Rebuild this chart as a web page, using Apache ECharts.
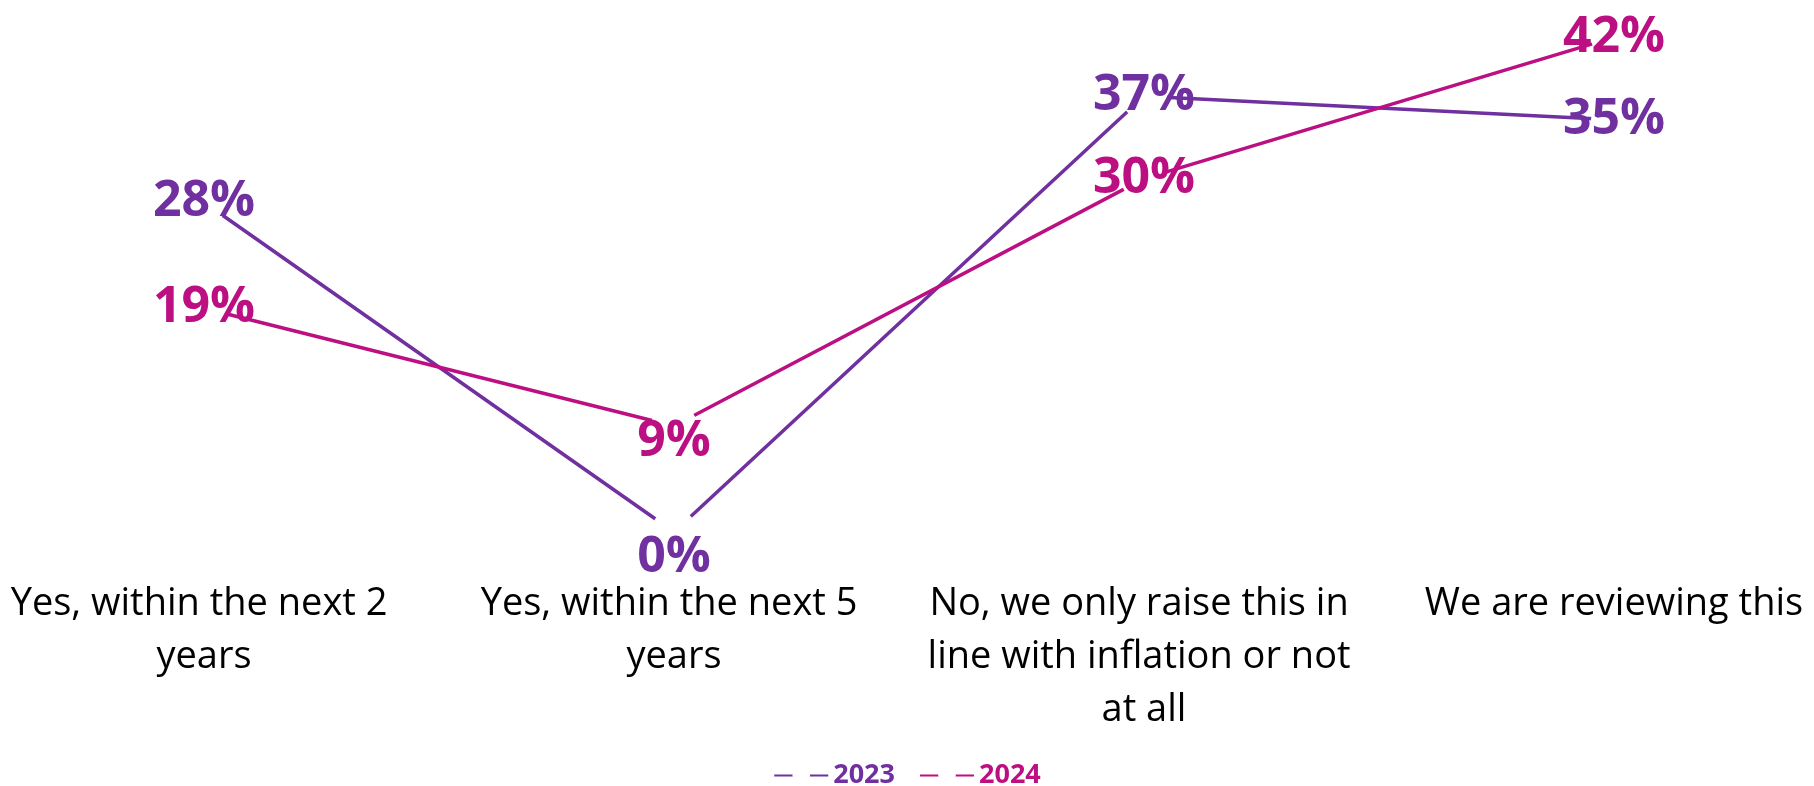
<!DOCTYPE html>
<html>
<head>
<meta charset="utf-8">
<script src="https://cdn.jsdelivr.net/npm/echarts@6/dist/echarts.min.js"></script>
<style>
  html, body { margin: 0; padding: 0; background: #fff; }
  #chart { width: 1814px; height: 786px; }
</style>
</head>
<body>
<div id="chart"></div>
<script>
// Survey answers (x axis) and share of respondents per year, in percent
const categories = [
  'Yes, within the next 2 years',
  'Yes, within the next 5 years',
  'No, we only raise this in line with inflation or not at all',
  'We are reviewing this'
];
const values2023 = [28, 0, 37, 35];
const values2024 = [19, 9, 30, 42];

const COLOR_2023 = '#7030A0';
const COLOR_2024 = '#BC0F82';
const FONT = '"Open Sans", "Noto Sans", sans-serif';

// Low points get their label pushed below the marker
function toItems(arr) {
  return arr.map(v => v < 10 ? { value: v, label: { offset: [0, v === 0 ? 26 : 16] } } : v);
}

function lineSeries(name, values, color) {
  return {
    name: name,
    type: 'line',
    data: toItems(values),
    symbol: 'circle',
    symbolSize: 46,
    showSymbol: true,
    lineStyle: { color: color, width: 3.5 },
    itemStyle: { color: '#ffffff', borderWidth: 0 },
    label: {
      show: true,
      position: 'inside',
      formatter: '{c}%',
      color: color,
      fontFamily: FONT,
      fontWeight: 'bold',
      fontSize: 50
    },
    emphasis: { disabled: true },
    animation: false
  };
}

const chart = echarts.init(document.getElementById('chart'), null, { renderer: 'canvas' });
chart.setOption({
  backgroundColor: '#ffffff',
  grid: { left: 204, right: 200, top: 2, bottom: 254, outerBoundsMode: 'none', containLabel: false },
  xAxis: {
    type: 'category',
    data: categories,
    boundaryGap: false,
    axisLine: { show: false },
    axisTick: { show: false },
    splitLine: { show: false },
    axisLabel: {
      interval: 0,
      margin: 46,
      width: 440,
      overflow: 'break',
      color: '#000000',
      fontFamily: FONT,
      fontSize: 38,
      lineHeight: 53,
      align: 'center'
    }
  },
  yAxis: {
    type: 'value',
    min: 0,
    max: 45,
    show: false,
    splitLine: { show: false }
  },
  legend: {
    top: 757,
    left: 'center',
    itemWidth: 54,
    itemHeight: 22,
    itemGap: 24,
    selectedMode: false,
    textStyle: { fontFamily: FONT, fontWeight: 'bold', fontSize: 27 },
    data: [
      { name: '2023', textStyle: { color: COLOR_2023 } },
      { name: '2024', textStyle: { color: COLOR_2024 } }
    ]
  },
  series: [
    lineSeries('2023', values2023, COLOR_2023),
    lineSeries('2024', values2024, COLOR_2024)
  ]
});
</script>
</body>
</html>
